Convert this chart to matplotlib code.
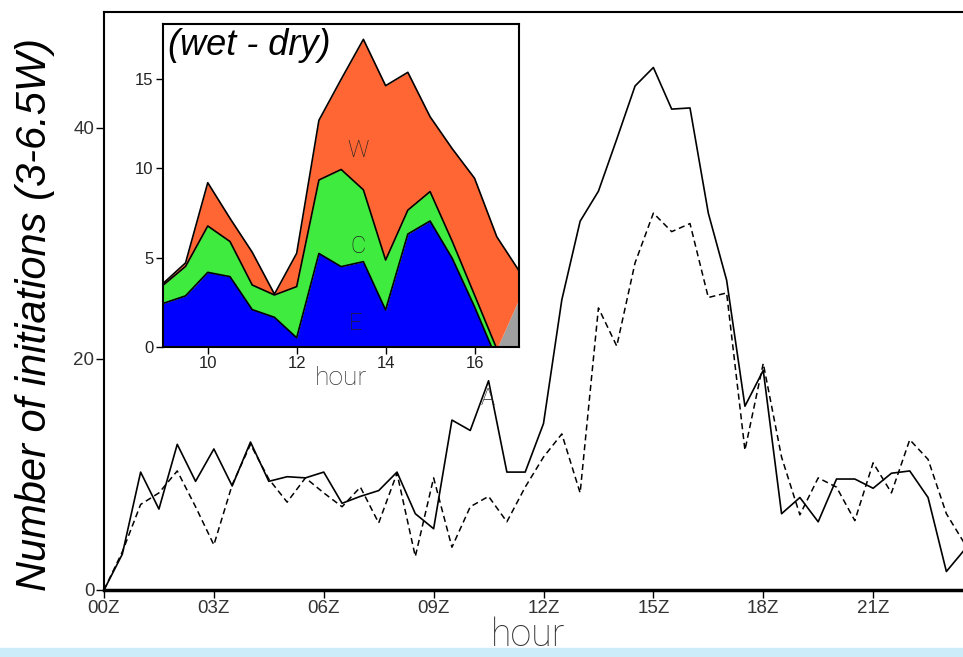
import numpy as np
import matplotlib
matplotlib.use("Agg")
import matplotlib.pyplot as plt
from matplotlib.patches import Rectangle

# ---------------- data ----------------
hours = np.arange(0, 24, 0.5)
wet = [0, 3.1, 10.2, 7.0, 12.6, 9.4, 12.2, 9.0, 12.8, 9.4, 9.8, 9.7,
       10.2, 7.5, 8.1, 8.6, 10.2, 6.6, 5.3, 14.7, 13.8, 18.1, 10.2, 10.2,
       14.4, 25.1, 31.9, 34.5, 39.0, 43.6, 45.2, 41.6, 41.7, 32.6, 26.8, 15.9,
       19.0, 6.6, 8.0, 5.9, 9.6, 9.6, 8.8, 10.1, 10.3, 8.0, 1.6, 3.5]
dry = [0, 3.3, 7.4, 8.4, 10.3, 7.2, 3.9, 9.1, 12.6, 9.6, 7.6, 9.7,
       8.4, 7.2, 8.9, 5.8, 10.1, 2.9, 9.7, 3.7, 7.2, 8.1, 5.9, 8.9,
       11.5, 13.5, 8.4, 24.4, 21.1, 28.3, 32.6, 31.0, 31.7, 25.3, 25.7, 12.1,
       19.6, 11.5, 6.5, 9.7, 8.9, 6.0, 11.0, 8.4, 13.0, 11.3, 6.6, 4.0]
xtick_vals = [0, 3, 6, 9, 12, 15, 18, 21]
xtick_labels = ["00Z", "03Z", "06Z", "09Z", "12Z", "15Z", "18Z", "21Z"]
ytick_vals = [0, 20, 40]

# inset (wet - dry) by region
ins_hours = np.arange(9, 17.01, 0.5)
E = [2.43, 2.85, 4.17, 3.93, 2.08, 1.65, 0.50, 5.23, 4.49, 4.77, 2.06, 6.32,
     7.05, 4.95, 2.24, -0.70, 0.0]
C = [1.03, 1.65, 2.60, 1.97, 1.38, 1.25, 2.87, 4.12, 5.45, 4.03, 2.80, 1.34,
     1.65, 0.95, 0.66, 0.58, 0.0]
A = [0, 0, 0, 0, 0, 0, 0, 0, 0, 0, 0, 0, 0, 0, 0, 0, 2.7]
W = [0.10, 0.20, 2.43, 1.30, 1.84, 0.05, 1.87, 3.35, 5.06, 8.44, 9.78, 7.73,
     4.20, 5.20, 6.55, 6.29, 1.56]

# ---------------- figure ----------------
W_PX, H_PX = 963, 657
fig = plt.figure(figsize=(9.63, 6.57), dpi=100)

tick_font = dict(family=["Liberation Sans", "DejaVu Sans"], size=13.5, color="#333333")

ax = fig.add_axes([104 / W_PX, 67 / H_PX, 879 / W_PX, 578 / H_PX])
ax.plot(hours, wet, color="black", lw=1.2)
ax.plot(hours, dry, color="black", lw=1.1, linestyle=(0, (4, 2.5)))
ax.set_xlim(0, 24)
ax.set_ylim(0, 50)
ax.set_xticks(xtick_vals)
ax.set_xticklabels(xtick_labels, **tick_font)
ax.set_yticks(ytick_vals)
ax.set_yticklabels([str(v) for v in ytick_vals], **tick_font)
ax.tick_params(axis="both", direction="out", length=6, width=1, pad=1)
for s in ["left", "top", "right"]:
    ax.spines[s].set_linewidth(1.5)
ax.spines["bottom"].set_linewidth(2.5)
ax.set_xlabel("hour", family=["Roboto", "DejaVu Sans"], fontweight="light",
              size=27, color="#333333", va="baseline")
ax.xaxis.set_label_coords(0.482, -0.097)
ax.set_ylabel("Number of initiations (3-6.5W)",
              family=["Liberation Sans", "DejaVu Sans"], style="italic",
              size=30, color="black")
ax.yaxis.set_label_coords(-0.056, 0.476)

# ---------------- inset ----------------
ia = fig.add_axes([163.3 / W_PX, (H_PX - 346.7) / H_PX, 355.7 / W_PX, 322.7 / H_PX])
E_a = np.array(E)
c1 = E_a
c2 = c1 + np.array(C)
c3 = c2 + np.array(A)
c4 = c3 + np.array(W)
zero = np.zeros_like(c1)
ia.fill_between(ins_hours, zero, c1, color="#0000ff", lw=0)
ia.fill_between(ins_hours, c1, c2, color="#3feb3f", lw=0)
ia.fill_between(ins_hours, c2, c3, color="#a0a0a0", lw=0)
ia.fill_between(ins_hours, c3, c4, color="#ff6633", lw=0)
for cc in (c1, c2, c4):
    ia.plot(ins_hours, cc, color="black", lw=1.2)
ia.set_xlim(9, 17)
ia.set_ylim(0, 18.1)
ia.set_xticks([10, 12, 14, 16])
ia.set_yticks([0, 5, 10, 15])
ins_tick = dict(family=["Liberation Sans", "DejaVu Sans"], size=12, color="#222222")
ia.set_xticklabels(["10", "12", "14", "16"], **ins_tick)
ia.set_yticklabels(["0", "5", "10", "15"], **ins_tick)
ia.tick_params(axis="both", direction="out", length=5, width=1, pad=2)
for s in ia.spines.values():
    s.set_linewidth(1.5)
ia.set_xlabel("hour", family=["Roboto", "DejaVu Sans"], fontweight="light",
              size=19, color="#333333", labelpad=-4)
ia.text(9.1, 17.9, "(wet - dry)", family=["Liberation Sans", "DejaVu Sans"],
        style="italic", size=26, ha="left", va="top")
lab = dict(family=["Roboto", "DejaVu Sans"], fontweight="light", size=17,
           color="#222222", ha="center", va="center")
ia.text(13.37, 11.0, "W", **lab)
ia.text(13.37, 5.6, "C", **lab)
ia.text(13.32, 1.3, "E", **lab)
ia.text(16.3, -2.9, "A", clip_on=False, **lab)

# light band at the bottom of the screenshot
fig.patches.append(Rectangle((0, 0), 1, 9 / H_PX, transform=fig.transFigure,
                             color="#cdecfa", zorder=-1))

fig.savefig("out.png", dpi=100)
